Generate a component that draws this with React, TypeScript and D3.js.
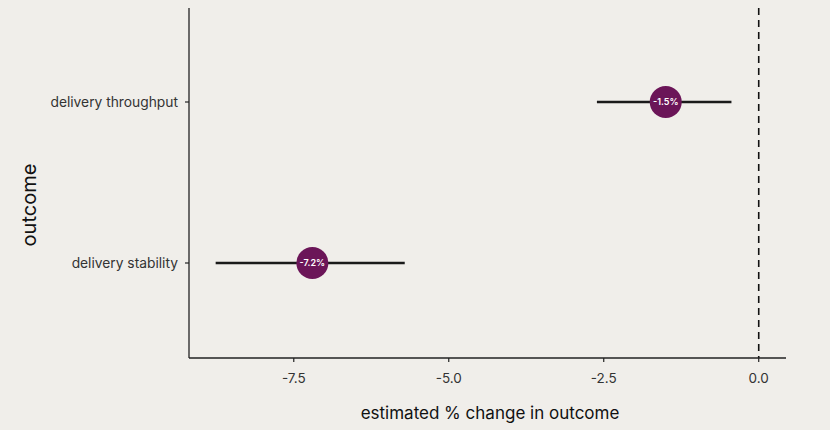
import React from "react";
import * as d3 from "d3";

const categories = ["delivery throughput", "delivery stability"];
const estimates = [-1.5, -7.2];
const lower = [-2.61, -8.76];
const upper = [-0.44, -5.71];
const pointLabels = ["-1.5%", "-7.2%"];
const xTicks = [-7.5, -5.0, -2.5, 0.0];

const W = 830;
const H = 430;
const FONT = "Inter, 'Open Sans', sans-serif";

export default function App() {
  const left = 189;
  const right = 786;
  const top = 8;
  const bottom = 358;
  const x = d3.scaleLinear().domain([-9.19, 0.44]).range([left, right]);
  const y = d3.scalePoint<string>().domain(categories).range([102, 263]);
  const fmt = (v: number) => d3.format(".1f")(v).replace("\u2212", "-");
  return (
    <svg width={W} height={H} style={{ position: "absolute", left: 0, top: 0, fontFamily: FONT }}>
      <rect x={0} y={0} width={W} height={H} fill="#f0eeea" />
      <line x1={x(0)} x2={x(0)} y1={top} y2={bottom} stroke="#111" strokeWidth={1.6} strokeDasharray="7,5" />
      <line x1={left} x2={left} y1={top} y2={bottom} stroke="#222" strokeWidth={1.3} />
      <line x1={left} x2={right} y1={bottom} y2={bottom} stroke="#222" strokeWidth={1.3} />
      {xTicks.map((t) => (
        <g key={t}>
          <line x1={x(t)} x2={x(t)} y1={bottom} y2={bottom + 4} stroke="#222" strokeWidth={1.2} />
          <text x={x(t)} y={bottom + 25} textAnchor="middle" fontSize={13.5} fill="#333">
            {fmt(t)}
          </text>
        </g>
      ))}
      {categories.map((c) => (
        <g key={c}>
          <line x1={left - 4} x2={left} y1={y(c)!} y2={y(c)!} stroke="#222" strokeWidth={1.2} />
          <text x={left - 11} y={y(c)!} dy="0.35em" textAnchor="end" fontSize={13.8} fill="#333">
            {c}
          </text>
        </g>
      ))}
      {categories.map((c, i) => (
        <g key={"p" + c}>
          <line x1={x(lower[i])} x2={x(upper[i])} y1={y(c)!} y2={y(c)!} stroke="#1a1a1a" strokeWidth={2.6} />
          <circle cx={x(estimates[i])} cy={y(c)!} r={16} fill="#6b1558" />
          <text x={x(estimates[i])} y={y(c)!} dy="0.35em" textAnchor="middle" fontSize={9} fontWeight={600} fill="#fff">
            {pointLabels[i]}
          </text>
        </g>
      ))}
      <text x={490} y={419} textAnchor="middle" fontSize={17} fill="#111">
        estimated % change in outcome
      </text>
      <text transform={`translate(36, 205) rotate(-90)`} textAnchor="middle" fontSize={20} fill="#111">
        outcome
      </text>
    </svg>
  );
}
